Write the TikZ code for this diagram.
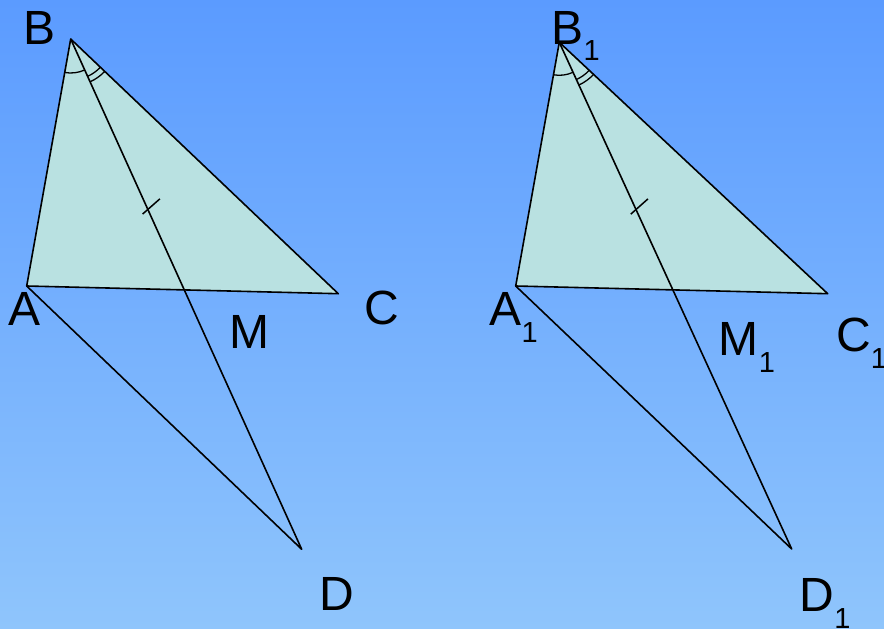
\documentclass[tikz,border=0pt]{standalone}
\usepackage{fontspec}
\setmainfont{Liberation Sans}
\usetikzlibrary{calc}
\definecolor{skytop}{RGB}{91,155,255}
\definecolor{skybottom}{RGB}{143,197,252}
\definecolor{trifill}{RGB}{185,225,225}
\tikzset{
  side/.style={line width=1.6pt, line join=round},
  anglearc/.style={line width=1.3pt},
  tickmark/.style={line width=1.5pt},
  vlabel/.style={anchor=base west, inner sep=0pt, font=\fontsize{48}{56}\selectfont},
}
\newcommand{\low}[1]{\raisebox{-17pt}{\fontsize{29}{29}\selectfont #1}}
\begin{document}
\begin{tikzpicture}[x=1pt, y=-1pt]
% sky background
\fill[top color=skytop, bottom color=skybottom] (0,0) rectangle (884,629);
\useasboundingbox (0,0) rectangle (884,629);
% Left figure: triangle ABC, BD through M
\begin{scope}
\coordinate (A) at (26.7,286);
\coordinate (B) at (70.7,39);
\coordinate (C) at (338.3,293.7);
\coordinate (D) at (301.7,549.3);
\filldraw[side, fill=trifill] (A) -- (B) -- (C) -- cycle;
\draw[side] (A) -- (D) -- (B);
\coordinate (T) at ($(B)!0.334!(D)$);
\draw[tickmark] ($(T)!7pt!-73:(D)$) -- ($(T)!16pt!107:(D)$);
\draw[anglearc] ([shift={(100.1:34)}]B) arc[start angle=100.1, end angle=65.6, radius=34];
\draw[anglearc] ([shift={(65.6:41)}]B) arc[start angle=65.6, end angle=43.6, radius=41];
\draw[anglearc] ([shift={(65.6:47)}]B) arc[start angle=65.6, end angle=43.6, radius=47];
\node[vlabel] (lB) at (23.2,44.3) {B};
\node[vlabel] (lA) at (8.3,325) {A};
\node[vlabel] (lC) at (364.3,324) {C};
\node[vlabel] (lM) at (229.7,348.3) {M};
\node[vlabel] (lD) at (319,610.7) {D};
\end{scope}
% Right figure: triangle A1B1C1, B1D1 through M1
\begin{scope}
\coordinate (A1) at (515.7,286);
\coordinate (B1) at (559.3,42.3);
\coordinate (C1) at (827.7,293.7);
\coordinate (D1) at (791.7,549);
\filldraw[side, fill=trifill] (A1) -- (B1) -- (C1) -- cycle;
\draw[side] (A1) -- (D1) -- (B1);
\coordinate (T1) at ($(B1)!0.33!(D1)$);
\draw[tickmark] ($(T1)!7pt!-73:(D1)$) -- ($(T1)!16pt!107:(D1)$);
\draw[anglearc] ([shift={(100.1:33)}]B1) arc[start angle=100.1, end angle=65.4, radius=33];
\draw[anglearc] ([shift={(65.4:41)}]B1) arc[start angle=65.4, end angle=43.1, radius=41];
\draw[anglearc] ([shift={(65.4:47)}]B1) arc[start angle=65.4, end angle=43.1, radius=47];
\node[vlabel] (lB1) at (551.5,44) {B\low{1}};
\node[vlabel] (lA1) at (489.3,325) {A\low{1}};
\node[vlabel] (lC1) at (836,351.7) {C\low{1}};
\node[vlabel] (lM1) at (718.7,355.7) {M\low{1}};
\node[vlabel] (lD1) at (799.6,611) {D\low{1}};
\end{scope}
\end{tikzpicture}
\end{document}
